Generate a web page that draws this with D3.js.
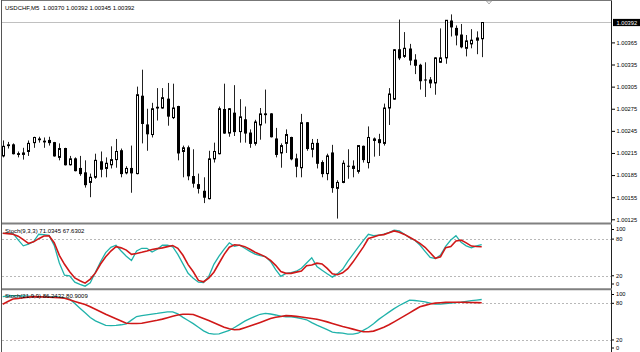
<!DOCTYPE html>
<html>
<head>
<meta charset="utf-8">
<script src="https://d3js.org/d3.v7.min.js"></script>
<style>
  body { margin: 0; background: #fff; }
  svg { display: block; font-family: "Liberation Sans", Arial, sans-serif; }
  .lbl { font-size: 6px; fill: #000; white-space: pre; }
  .axis text { font-size: 5.7px; fill: #000; font-family: "Liberation Sans", Arial, sans-serif; }
  .axis line { stroke: #000; }
  .axis path { display: none; }
</style>
</head>
<body>
<svg id="chart" width="640" height="352"></svg>
<script>
const symbol = "USDCHF,M5"

const opens = [1.00211, 1.00225, 1.00226, 1.00214, 1.00213, 1.00217, 1.00229, 1.00233, 1.00230, 1.00232,
  1.00229, 1.00209, 1.00221, 1.00199, 1.00207, 1.00194, 1.00188, 1.00175, 1.00182, 1.00203,
  1.00194, 1.00199, 1.00206, 1.00218, 1.00188, 1.00194, 1.00187, 1.00292, 1.00253, 1.00240,
  1.00276, 1.00276, 1.00288, 1.00263, 1.00278, 1.00217, 1.00222, 1.00183, 1.00172, 1.00163,
  1.00153, 1.00207, 1.00214, 1.00274, 1.00242, 1.00269, 1.00244, 1.00260, 1.00242, 1.00228,
  1.00253, 1.00268, 1.00268, 1.00234, 1.00215, 1.00228, 1.00236, 1.00207, 1.00195, 1.00256,
  1.00220, 1.00228, 1.00202, 1.00187, 1.00215, 1.00167, 1.00175, 1.00197, 1.00197, 1.00190,
  1.00224, 1.00202, 1.00234, 1.00233, 1.00228, 1.00276, 1.00288, 1.00355, 1.00346, 1.00356,
  1.00341, 1.00334, 1.00314, 1.00314, 1.00310, 1.00338, 1.00344, 1.00394, 1.00384, 1.00375,
  1.00357, 1.00363, 1.00368, 1.00370]

const highs = [1.00232, 1.00230, 1.00228, 1.00217, 1.00222, 1.00232, 1.00237, 1.00237, 1.00236, 1.00237,
  1.00230, 1.00228, 1.00222, 1.00211, 1.00209, 1.00211, 1.00205, 1.00187, 1.00214, 1.00217,
  1.00209, 1.00224, 1.00234, 1.00221, 1.00197, 1.00225, 1.00305, 1.00328, 1.00275, 1.00283,
  1.00303, 1.00303, 1.00310, 1.00309, 1.00279, 1.00225, 1.00225, 1.00220, 1.00187, 1.00182,
  1.00218, 1.00229, 1.00278, 1.00309, 1.00276, 1.00307, 1.00288, 1.00278, 1.00247, 1.00260,
  1.00276, 1.00301, 1.00269, 1.00249, 1.00228, 1.00247, 1.00237, 1.00214, 1.00268, 1.00257,
  1.00234, 1.00234, 1.00205, 1.00214, 1.00226, 1.00178, 1.00205, 1.00220, 1.00205, 1.00225,
  1.00225, 1.00251, 1.00236, 1.00241, 1.00282, 1.00303, 1.00356, 1.00396, 1.00379, 1.00363,
  1.00349, 1.00336, 1.00338, 1.00318, 1.00345, 1.00384, 1.00395, 1.00403, 1.00388, 1.00390,
  1.00375, 1.00383, 1.00380, 1.00392]

const lows = [1.00209, 1.00221, 1.00213, 1.00209, 1.00206, 1.00211, 1.00222, 1.00229, 1.00222, 1.00225,
  1.00210, 1.00205, 1.00198, 1.00198, 1.00190, 1.00184, 1.00168, 1.00155, 1.00180, 1.00182,
  1.00182, 1.00194, 1.00195, 1.00182, 1.00186, 1.00161, 1.00186, 1.00228, 1.00218, 1.00236,
  1.00259, 1.00275, 1.00252, 1.00261, 1.00205, 1.00182, 1.00178, 1.00168, 1.00160, 1.00147,
  1.00152, 1.00202, 1.00213, 1.00241, 1.00237, 1.00238, 1.00229, 1.00229, 1.00222, 1.00225,
  1.00233, 1.00255, 1.00236, 1.00209, 1.00195, 1.00215, 1.00205, 1.00182, 1.00182, 1.00218,
  1.00209, 1.00194, 1.00182, 1.00178, 1.00161, 1.00126, 1.00174, 1.00180, 1.00182, 1.00187,
  1.00202, 1.00194, 1.00210, 1.00211, 1.00225, 1.00253, 1.00287, 1.00341, 1.00344, 1.00334,
  1.00322, 1.00301, 1.00291, 1.00303, 1.00294, 1.00337, 1.00336, 1.00373, 1.00361, 1.00357,
  1.00346, 1.00357, 1.00349, 1.00345]

const closes = [1.00224, 1.00226, 1.00214, 1.00213, 1.00215, 1.00228, 1.00236, 1.00234, 1.00231, 1.00229,
  1.00211, 1.00221, 1.00199, 1.00207, 1.00191, 1.00187, 1.00172, 1.00182, 1.00205, 1.00193,
  1.00201, 1.00206, 1.00217, 1.00187, 1.00194, 1.00188, 1.00294, 1.00255, 1.00241, 1.00275,
  1.00277, 1.00290, 1.00265, 1.00276, 1.00215, 1.00222, 1.00184, 1.00174, 1.00167, 1.00155,
  1.00207, 1.00217, 1.00275, 1.00242, 1.00275, 1.00244, 1.00264, 1.00242, 1.00228, 1.00257,
  1.00268, 1.00267, 1.00237, 1.00213, 1.00225, 1.00240, 1.00207, 1.00197, 1.00256, 1.00221,
  1.00228, 1.00201, 1.00187, 1.00211, 1.00168, 1.00175, 1.00201, 1.00197, 1.00194, 1.00225,
  1.00206, 1.00236, 1.00232, 1.00229, 1.00276, 1.00295, 1.00355, 1.00344, 1.00357, 1.00341,
  1.00334, 1.00313, 1.00314, 1.00310, 1.00344, 1.00344, 1.00395, 1.00386, 1.00375, 1.00359,
  1.00367, 1.00368, 1.00371, 1.00392]

// Stoch(9,3,3)
const fastMain = [89.5, 89.5, 89.5, 78.8, 69, 71.8, 76, 88, 87.5, 86,
  69.8, 41, 21, 20, 9.5, 6, 3, 8.5, 25.8, 43,
  58, 66.5, 70, 60.5, 52, 45, 60.5, 65, 65, 59,
  63.5, 70, 70, 67.5, 55, 39.5, 24, 16, 9.5, 9,
  18.7, 38.8, 52, 63.6, 74, 68.4, 70, 65, 60, 55.5,
  53, 51.5, 43.5, 30, 19, 24, 25, 27.5, 32.3, 41,
  49.5, 35.3, 29.2, 23.2, 17.8, 23.5, 30.5, 43.6, 55, 66.5,
  77.6, 87.8, 85.6, 86.3, 88, 90.7, 94.5, 93.5, 88, 82.2,
  78.2, 70.4, 60, 50, 48, 54, 68.2, 78.6, 85.7, 74.7,
  69, 65.8, 68.8, 71.0345]
const fastSignal = [89.5, 89, 88, 84.8, 79.2, 73, 75.5, 80.7, 85, 85.3,
  74.2, 53.4, 38.8, 26.6, 16.4, 12, 8, 14.6, 24.7, 39.3,
  51, 60.5, 67.6, 65.7, 62, 55, 56.6, 58.4, 60.5, 63,
  64.4, 65.7, 67.7, 69.5, 65, 53.6, 38.3, 26.5, 12.4, 10.2,
  16.2, 25.8, 40.5, 55, 66.7, 70.7, 70, 67.7, 63.5, 58.6,
  55, 51, 45.2, 37.1, 27, 24, 24, 26, 27.8, 36.5,
  37.5, 40.7, 39.3, 32.2, 23.4, 21.8, 24.8, 31.6, 42.4, 54.7,
  66.9, 81, 83.6, 86.4, 87.4, 90.3, 93.4, 91.4, 87.7, 83,
  78.4, 73.1, 66.6, 57.6, 48.6, 51.2, 66.1, 68, 77, 78.3,
  73.8, 68.6, 67.9, 67.6302]

// Stoch(21,9,9)
const slowMain = [91, 92, 92.4, 92.2, 92, 91.7, 91.4, 91, 91, 91,
  91, 90.3, 88.8, 87.1, 79.8, 72, 64.5, 56.9, 51.3, 47.6,
  43.9, 43.5, 44, 44.9, 46.5, 52.5, 58.4, 59.7, 61, 62.3,
  63.5, 64.9, 66, 66, 62.6, 57, 51.9, 46.7, 40.8, 34.9,
  30.7, 29.6, 30.1, 32.9, 35.6, 40.5, 45.6, 50.8, 55, 58.6,
  62.1, 63.5, 62.5, 60.9, 58.9, 58, 58, 56.8, 55, 53.1,
  48.3, 44.3, 40.7, 36.9, 33, 31.8, 31.1, 29.6, 29.7, 31.1,
  35.8, 40.5, 46.7, 53.7, 59.7, 65.6, 71.3, 76.4, 80.8, 85.2,
  84.6, 83.6, 82.3, 80.4, 78.6, 78.7, 79.7, 80.5, 81.2, 82,
  83.1, 84.3, 85.2, 86.2432]
const slowSignal = [78.6, 82.9, 87, 88, 89.1, 90.1, 91, 90.6, 90.3, 89.9,
  89.6, 89.2, 88.3, 85.7, 83.1, 80.5, 78, 74.4, 70.3, 66.1,
  62, 58.3, 54.7, 51.1, 47.5, 47, 47, 47.5, 49.1, 50.6,
  52.2, 54.1, 56.4, 58.7, 61, 62, 62, 61.8, 58.5, 55.2,
  51.8, 48.2, 44.6, 41, 38.3, 36.8, 37.4, 40.1, 42.9, 45.8,
  48.8, 52, 55, 57.2, 58.5, 59.8, 59.4, 58.6, 57.7, 56.4,
  55.1, 53.8, 52, 49.6, 47.1, 44.6, 42.2, 40, 37.8, 35.6,
  33.5, 33.5, 34.5, 37.7, 41, 44.9, 49.7, 54.5, 59.4, 64.4,
  69.4, 74.4, 76.6, 78.8, 80.3, 80.9, 81.5, 81.7, 81.7, 81.7,
  81.5, 81.3, 81.1, 80.9009]

const priceTicks = [1.00365, 1.00335, 1.00305, 1.00275, 1.00245, 1.00215, 1.00185, 1.00155, 1.00125]
const levelTicks = [100, 80, 20, 0]
const dottedLevels = [80, 20]

let width = 640,
  height = 352,
  plot = {left: 2, right: 612},
  panels = {
    main: {top: 1, bottom: 222},
    fast: {top: 225.5, bottom: 288},
    slow: {top: 290.5, bottom: 352}
  },
  colors = {main: "#20b2aa", signal: "#d01818", grid: "#b8b8b8", sep: "#808080"}

let svg = d3.select("#chart")
let n = closes.length
let candles = d3.range(n).map(i => ({i: i + 1, o: opens[i], h: highs[i], l: lows[i], c: closes[i]}))

let x = d3.scaleLinear().domain([1, n]).range([2.7, 481.7])
let yMain = d3.scaleLinear().domain([1.00125, 1.00392]).range([219.3, 22.5])
let yFast = d3.scaleLinear().domain([0, 100]).range([288, 226.9])
let ySlow = d3.scaleLinear().domain([0, 100]).range([352.2, 291.1])

// one clip rect per panel
let defs = svg.append("defs")
Object.entries(panels).forEach(([k, p]) => {
  defs.append("clipPath").attr("id", "clip_" + k)
    .append("rect")
    .attr("x", plot.left).attr("y", p.top)
    .attr("width", plot.right - plot.left).attr("height", p.bottom - p.top)
})

// bid line
svg.append("line")
  .attr("x1", plot.left).attr("x2", plot.right)
  .attr("y1", yMain(closes[n - 1])).attr("y2", yMain(closes[n - 1]))
  .attr("stroke", "#c0c0c0").attr("stroke-width", 1)

// candles
let cg = svg.append("g").attr("clip-path", "url(#clip_main)")
cg.selectAll("line.wick")
  .data(candles).enter()
  .append("line")
  .attr("class", "wick")
  .attr("x1", d => Math.round(x(d.i)) + 0.5)
  .attr("x2", d => Math.round(x(d.i)) + 0.5)
  .attr("y1", d => yMain(d.h))
  .attr("y2", d => yMain(d.l))
  .attr("stroke", "#222").attr("stroke-width", 1)

cg.selectAll("rect.body")
  .data(candles).enter()
  .append("rect")
  .attr("class", "body")
  .attr("x", d => Math.round(x(d.i)) - 0.5)
  .attr("width", 2)
  .attr("y", d => yMain(Math.max(d.o, d.c)))
  .attr("height", d => Math.max(Math.abs(yMain(d.o) - yMain(d.c)), 0.01))
  .attr("fill", d => d.c >= d.o ? "#fff" : "#000")
  .attr("stroke", "#000").attr("stroke-width", 1)

// price axis
svg.append("g")
  .attr("class", "axis")
  .attr("transform", `translate(${plot.right}, 0)`)
  .call(d3.axisRight(yMain).tickValues(priceTicks).tickFormat(d3.format(".5f")).tickSize(3).tickPadding(1.5))

// current price box
let cy = yMain(closes[n - 1])
svg.append("rect")
  .attr("x", plot.right + 1).attr("y", cy - 3.6)
  .attr("width", width - plot.right - 1).attr("height", 7.2)
  .attr("fill", "#000")
svg.append("text")
  .attr("x", plot.right + 4.5).attr("y", cy + 2.1)
  .attr("font-size", 5.7).attr("fill", "#fff")
  .text(d3.format(".5f")(closes[n - 1]))

// indicator panels
function stochPanel(key, yScale, mainVals, sigVals, label) {
  let p = panels[key]
  let g = svg.append("g")
  g.selectAll("line.level")
    .data(dottedLevels).enter()
    .append("line")
    .attr("x1", plot.left).attr("x2", plot.right)
    .attr("y1", d => Math.round(yScale(d)) + 0.5).attr("y2", d => Math.round(yScale(d)) + 0.5)
    .attr("stroke", colors.grid).attr("stroke-dasharray", "2,2").attr("stroke-width", 1)

  let line = d3.line().x((d, i) => x(i + 1)).y(d => yScale(d))
  let lg = g.append("g").attr("clip-path", `url(#clip_${key})`)
  lg.append("path").datum(mainVals)
    .attr("d", line).attr("fill", "none")
    .attr("stroke", colors.main).attr("stroke-width", 1.3)
  lg.append("path").datum(sigVals)
    .attr("d", line).attr("fill", "none")
    .attr("stroke", colors.signal).attr("stroke-width", 1.6)

  let a = svg.append("g")
    .attr("class", "axis")
    .attr("transform", `translate(${plot.right}, 0)`)
    .call(d3.axisRight(yScale).tickValues(levelTicks).tickSize(2).tickPadding(2))
  // keep the edge labels inside the panel
  a.selectAll(".tick")
    .attr("transform", d => `translate(0, ${Math.min(Math.max(yScale(d), p.top + 4), p.bottom - 4)})`)

  g.append("text")
    .attr("class", "lbl")
    .attr("x", 5).attr("y", p.top + 7.8)
    .text(`${label} ${d3.format(".4f")(mainVals[n - 1])} ${d3.format(".4f")(sigVals[n - 1])}`)
}

stochPanel("fast", yFast, fastMain, fastSignal, "Stoch(9,3,3)")
stochPanel("slow", ySlow, slowMain, slowSignal, "Stoch(21,9,9)")

// frame and separators
svg.append("line")
  .attr("x1", 1.5).attr("x2", 1.5).attr("y1", 0).attr("y2", height)
  .attr("stroke", "#555").attr("stroke-width", 1)
svg.append("line")
  .attr("x1", plot.right - 0.5).attr("x2", plot.right - 0.5).attr("y1", 0).attr("y2", height)
  .attr("stroke", "#222").attr("stroke-width", 1)
svg.append("line")
  .attr("x1", plot.left).attr("x2", plot.right).attr("y1", 0.5).attr("y2", 0.5)
  .attr("stroke", "#777").attr("stroke-width", 1)
svg.selectAll("line.sep")
  .data([223.5, 289.3]).enter()
  .append("line")
  .attr("x1", plot.left).attr("x2", plot.right)
  .attr("y1", d => d).attr("y2", d => d)
  .attr("stroke", colors.sep).attr("stroke-width", 2)

// chart shift marker
svg.append("path")
  .attr("d", "M486.5,1 L491.5,1 L489,4 Z")
  .attr("fill", "#fff").attr("stroke", "#999").attr("stroke-width", 0.8)

// title
svg.append("text")
  .attr("class", "lbl")
  .attr("x", 5).attr("y", 10)
  .text(`${symbol}  ${[opens[n - 1], highs[n - 1], lows[n - 1], closes[n - 1]].map(d3.format(".5f")).join(" ")}`)
</script>
</body>
</html>
